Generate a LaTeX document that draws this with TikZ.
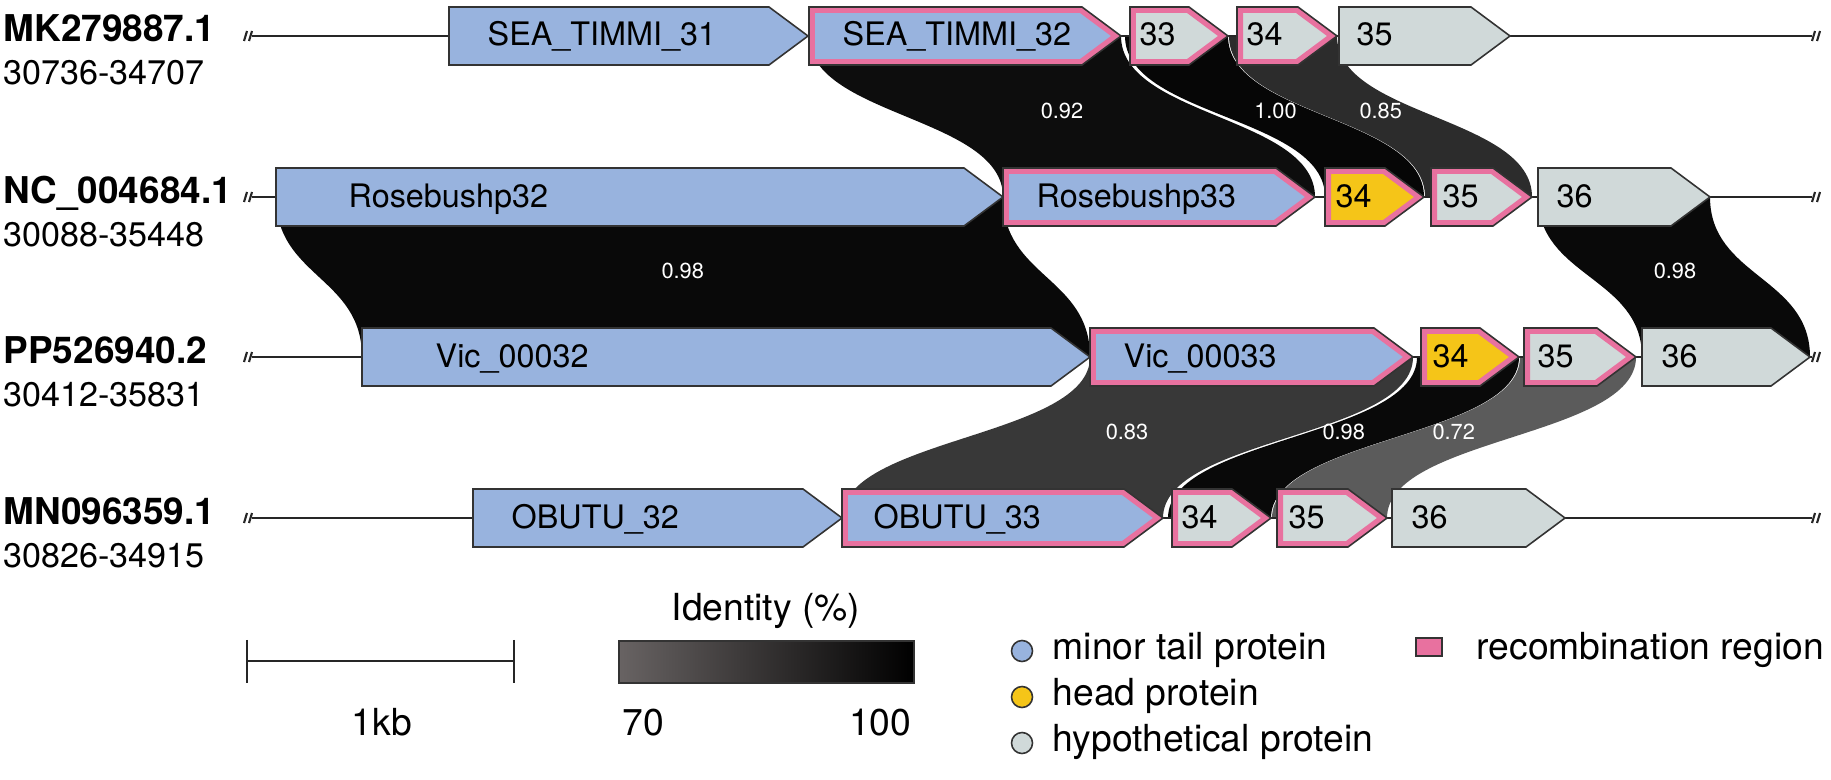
\documentclass[tikz,border=0pt]{standalone}
\usepackage{fontspec}
\setmainfont{TeX Gyre Heros}
\usetikzlibrary{calc}

\definecolor{tailblue}{HTML}{98B3DE}
\definecolor{recpink}{HTML}{E8719F}
\definecolor{headyellow}{HTML}{F5C518}
\definecolor{hypgray}{HTML}{D0D9D9}
\definecolor{outline}{HTML}{333333}
\definecolor{idlow}{RGB}{104,99,99}
\definecolor{id100}{HTML}{060606}
\definecolor{id98}{HTML}{090909}
\definecolor{id92}{HTML}{0D0D0D}
\definecolor{id85}{HTML}{2C2C2C}
\definecolor{id83}{HTML}{383838}
\definecolor{id72}{HTML}{5B5B5B}

\pgfdeclarelayer{ribbons}
\pgfdeclarelayer{spine}
\pgfsetlayers{ribbons,spine,main}

\newcommand{\arrowpath}[3]{(#1,{#3-29}) -- ({#2-39},{#3-29}) -- (#2,#3) -- ({#2-39},{#3+29}) -- (#1,{#3+29}) -- cycle}
\newcommand{\gene}[8]{%
  \coordinate (#1-l) at (#2,#4);
  \coordinate (#1-r) at (#3,#4);
  \begin{scope}
    \clip \arrowpath{#2}{#3}{#4};
    \fill[#5] \arrowpath{#2}{#3}{#4};
    \ifnum#6=1 \draw[recpink, line width=3.4pt, line join=miter] \arrowpath{#2}{#3}{#4};\fi
  \end{scope}
  \draw[geneline] \arrowpath{#2}{#3}{#4};
  \node[genetext] (#1-t) at (#8,{#4+10}) {#7};
}
% #1,#2: left edge pulled left at top / bottom (px)
\newcommand{\ribbon}[6]{%
  \path ([xshift=-#1*0.01cm]#3-l) coordinate (tl) ([xshift=-#2*0.01cm]#4-l) coordinate (bl);
  \path ($(tl)!0.5!(bl)$) coordinate (ml) ($(#3-r)!0.5!(#4-r)$) coordinate (mr);
  \begin{pgfonlayer}{ribbons}
    \fill[#5] (tl) .. controls (tl |- ml) and (bl |- ml) .. (bl) -- (#4-r)
      .. controls (#4-r |- mr) and (#3-r |- mr) .. (#3-r) -- cycle;
  \end{pgfonlayer}
  \node[idtext] (#3-#4) at ([yshift=0.06cm]$(ml)!0.5!(mr)$) {#6};
}
\newcommand{\brk}[2]{\draw[brkmark] ({#1-4},{#2+5}) -- ({#1-1},{#2-5}) ({#1+1},{#2+5}) -- ({#1+4},{#2-5});}
\newcommand{\spine}[1]{%
  \begin{pgfonlayer}{spine}
    \draw[backbone] (252,#1) -- (1812,#1);
  \end{pgfonlayer}
  \brk{248}{#1}
  \brk{1816}{#1}
}

\begin{document}
\begin{tikzpicture}[x=0.01cm, y=-0.01cm,
    genetext/.style={anchor=base west, inner sep=0pt, font=\fontsize{9.2pt}{11pt}\selectfont},
    idtext/.style={text=white, inner sep=0pt, font=\fontsize{6.2pt}{7pt}\selectfont},
    rowname/.style={anchor=base west, inner sep=0pt, font=\fontsize{10.5pt}{12pt}\selectfont\bfseries},
    rowrange/.style={anchor=base west, inner sep=0pt, font=\fontsize{9.7pt}{12pt}\selectfont},
    legtext/.style={anchor=base west, inner sep=0pt, font=\fontsize{10.6pt}{12pt}\selectfont},
    backbone/.style={draw=black!85, line width=0.6pt},
    brkmark/.style={draw=black!85, line width=0.6pt},
    geneline/.style={draw=outline, line width=0.45pt},
    legdot/.style={geneline, minimum size=0.21cm, circle, inner sep=0pt}]
  \useasboundingbox (0,0) rectangle (1831,779);

  \node[rowname] (mk) at (3,42) {MK279887.1};
  \node[rowrange] (mkr) at (3,85) {30736-34707};
  \node[rowname] (nc) at (3,203) {NC\_004684.1};
  \node[rowrange] (ncr) at (3,246) {30088-35448};
  \node[rowname] (pp) at (3,363) {PP526940.2};
  \node[rowrange] (ppr) at (3,406) {30412-35831};
  \node[rowname] (mn) at (3,524) {MN096359.1};
  \node[rowrange] (mnr) at (3,567) {30826-34915};

  \spine{36}
  \spine{197}
  \spine{357}
  \spine{518}

  \gene{a31}{449}{808}{36}{tailblue}{0}{SEA\_TIMMI\_31}{487}
  \gene{a32}{809}{1121}{36}{tailblue}{1}{SEA\_TIMMI\_32}{842}
  \gene{a33}{1130}{1228}{36}{hypgray}{1}{33}{1139}
  \gene{a34}{1237}{1337}{36}{hypgray}{1}{34}{1246}
  \gene{a35}{1339}{1510}{36}{hypgray}{0}{35}{1356}

  \gene{b32}{276}{1003}{197}{tailblue}{0}{Rosebushp32}{348}
  \gene{b33}{1003}{1315}{197}{tailblue}{1}{Rosebushp33}{1036}
  \gene{b34}{1325}{1424}{197}{headyellow}{1}{34}{1335}
  \gene{b35}{1431}{1532}{197}{hypgray}{1}{35}{1442}
  \gene{b36}{1538}{1710}{197}{hypgray}{0}{36}{1556}

  \gene{c32}{362}{1090}{357}{tailblue}{0}{Vic\_00032}{435}
  \gene{c33}{1090}{1413}{357}{tailblue}{1}{Vic\_00033}{1123}
  \gene{c34}{1421}{1519}{357}{headyellow}{1}{34}{1432}
  \gene{c35}{1524}{1636}{357}{hypgray}{1}{35}{1537}
  \gene{c36}{1642}{1810}{357}{hypgray}{0}{36}{1661}

  \gene{d32}{473}{842}{518}{tailblue}{0}{OBUTU\_32}{511}
  \gene{d33}{842}{1163}{518}{tailblue}{1}{OBUTU\_33}{873}
  \gene{d34}{1172}{1271}{518}{hypgray}{1}{34}{1181}
  \gene{d35}{1277}{1387}{518}{hypgray}{1}{35}{1288}
  \gene{d36}{1392}{1565}{518}{hypgray}{0}{36}{1411}

  \ribbon{0}{0}{a32}{b33}{id92}{0.92}
  \ribbon{5}{0}{a33}{b34}{id100}{1.00}
  \ribbon{8}{6}{a34}{b35}{id85}{0.85}
  \ribbon{0}{0}{b32}{c32}{id98}{0.98}
  \ribbon{0}{0}{b36}{c36}{id98}{0.98}
  \ribbon{0}{0}{c33}{d33}{id83}{0.83}
  \ribbon{4}{4}{c34}{d34}{id98}{0.98}
  \ribbon{4}{5}{c35}{d35}{id72}{0.72}

  % legend
  \coordinate (kb1) at (247,661);
  \coordinate (kb2) at (514,661);
  \draw[backbone] (kb1) -- (kb2);
  \draw[backbone] ([yshift=0.21cm]kb1) -- ([yshift=-0.22cm]kb1);
  \draw[backbone] ([yshift=0.21cm]kb2) -- ([yshift=-0.22cm]kb2);
  \node[legtext, anchor=base] (kb) at (382,735) {1kb};

  \shade[left color=idlow, right color=black] (619,641) rectangle (914,683);
  \draw[geneline] (619,641) rectangle (914,683);
  \node[legtext, anchor=base] (idt) at (766,620) {Identity (\%)};
  \node[legtext] (lo) at (622,735) {70};
  \node[legtext, anchor=base east] (hi) at (912,735) {100};

  \node[legdot, fill=tailblue] (dot1) at (1022,651) {};
  \node[legdot, fill=headyellow] (dot2) at (1022,697) {};
  \node[legdot, fill=hypgray] (dot3) at (1022,743) {};
  \node[legtext] (leg1) at (1052,659) {minor tail protein};
  \node[legtext] (leg2) at (1052,705) {head protein};
  \node[legtext] (leg3) at (1052,751) {hypothetical protein};
  \draw[geneline, fill=recpink] (1416,638) rectangle (1442,656);
  \node[legtext] (leg4) at (1476,659) {recombination region};
\end{tikzpicture}
\end{document}
